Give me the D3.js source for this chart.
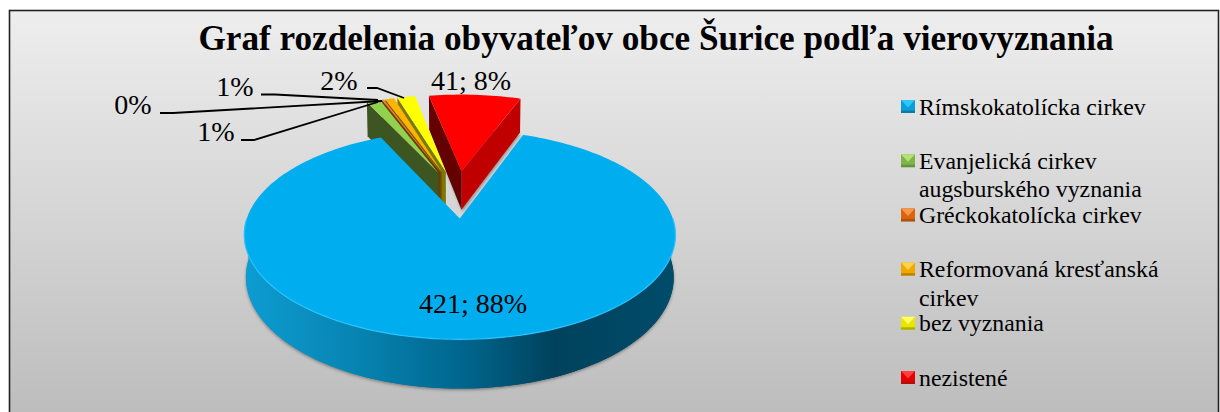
<!DOCTYPE html>
<html lang="sk">
<head>
<meta charset="UTF-8">
<title>Graf rozdelenia obyvateľov</title>
<script src="https://d3js.org/d3.v7.min.js"></script>
<style>
  html, body { margin: 0; padding: 0; background: #fff; }
  svg { display: block; }
  text { font-family: "Liberation Serif", serif; fill: #000; }
</style>
</head>
<body>
<svg width="1220" height="412"></svg>
<script>
// data
const title = "Graf rozdelenia obyvateľov obce Šurice podľa vierovyznania";
const categories = ["Rímskokatolícka cirkev", "Evanjelická cirkev augsburského vyznania", "Gréckokatolícka cirkev", "Reformovaná kresťanská cirkev", "bez vyznania", "nezistené"];
const values = [421, 6, 1, 4, 8, 41];
const dataLabels = ["421; 88%", "1%", "0%", "1%", "2%", "41; 8%"];
const legendLines = [["Rímskokatolícka cirkev"], ["Evanjelická cirkev", "augsburského vyznania"], ["Gréckokatolícka cirkev"], ["Reformovaná kresťanská", "cirkev"], ["bez vyznania"], ["nezistené"]];
const topColors = ["#00aeef", "#92d050", "#f07d1a", "#ffb400", "#ffff00", "#ff0000"];
const wallColors = ["#00628a", "#3c5521", "#6b3a08", "#7a5a00", "#7a7a00", "#640000"];
const wallColors2 = ["#00445f", "#3c5521", "#6b3a08", "#7a5a00", "#7a7a00", "#c00000"];
const legendTop = ["#2cc6f7", "#b5e07c", "#f79646", "#ffd24a", "#ffff66", "#ff4040"];
const legendBase = ["#0a9fd8", "#7fb548", "#d9650f", "#efa800", "#e6e600", "#e60000"];
const legendBottom = ["#0b7aa5", "#66923a", "#a9550f", "#b98300", "#b0b000", "#b80d0d"];

const svg = d3.select("svg");
const defs = svg.append("defs");

// panel
const bg = defs.append("linearGradient").attr("id", "bg").attr("x1", 0).attr("x2", 0).attr("y1", 0).attr("y2", 1);
bg.append("stop").attr("offset", 0).attr("stop-color", "#eeeeee");
bg.append("stop").attr("offset", 1).attr("stop-color", "#bcbcbc");
svg.append("rect").attr("x", 9.5).attr("y", 10.5).attr("width", 1209).attr("height", 410)
  .attr("fill", "url(#bg)").attr("stroke", "#222").attr("stroke-width", 1.6);

svg.append("text").attr("x", 656).attr("y", 50).attr("text-anchor", "middle")
  .attr("font-size", 35.2).attr("font-weight", "bold").text(title);

// ground plane -> screen, the pie lies on a unit disc seen in perspective
const cx = 457.5, cy = 194, rx = 205, ry = 94.5, persp = 0.15, depth = 40, explode = 0.25;
function project(u, v, z) {
  const w = 1 / (1 - persp * v);
  return [cx + rx * u * w * (1 - 0.008 * z), cy + ry * v * w + depth * z * w];
}

const pie = d3.pie().sort(null).startAngle(20 * Math.PI / 180).endAngle(380 * Math.PI / 180);
const arcs = pie(values);
const line = d3.line();

function apex(a) {
  const m = (a.startAngle + a.endAngle) / 2;
  return [explode * Math.sin(m), -explode * Math.cos(m)];
}
function rim(a, t) {
  const c = apex(a);
  return [c[0] + Math.sin(t), c[1] - Math.cos(t)];
}
function topPath(a, z) {
  const c = apex(a), n = Math.max(2, Math.ceil((a.endAngle - a.startAngle) * 40));
  const pts = [project(c[0], c[1], z)];
  d3.range(n + 1).forEach(i => {
    const p = rim(a, a.startAngle + (a.endAngle - a.startAngle) * i / n);
    pts.push(project(p[0], p[1], z));
  });
  return line(pts) + "Z";
}
function wall(a, t) {
  const c = apex(a), p = rim(a, t);
  return line([project(c[0], c[1], 0), project(p[0], p[1], 0), project(p[0], p[1], 1), project(c[0], c[1], 1)]) + "Z";
}

const shadow = defs.append("filter").attr("id", "soft").attr("x", "-5%").attr("y", "-5%").attr("width", "110%").attr("height", "110%");
shadow.append("feGaussianBlur").attr("stdDeviation", 1.4);

// far slices first, right to left, the big slice last
[5, 4, 3, 2, 1].forEach(i => {
  const a = arcs[i];
  const g = svg.append("g");
  if (i === 5) {
    g.append("path").attr("d", topPath(a, 1)).attr("fill", "#555").attr("opacity", 0.5).attr("filter", "url(#soft)").attr("transform", "translate(1,2)");
    g.append("path").attr("d", wall(a, a.endAngle)).attr("fill", wallColors2[i]);
  }
  g.append("path").attr("d", wall(a, a.startAngle)).attr("fill", wallColors[i]);
  g.append("path").attr("d", topPath(a, 0)).attr("fill", topColors[i]);
});

// big slice: side wall along the front, then the top
const big = arcs[0];
const sideGrad = defs.append("linearGradient").attr("id", "side").attr("gradientUnits", "userSpaceOnUse")
  .attr("x1", 243).attr("x2", 676).attr("y1", 0).attr("y2", 0);
[[0, "#0d9dd2"], [0.25, "#0785b3"], [0.5, "#00678f"], [0.72, "#00425c"], [1, "#004c6b"]]
  .forEach(s => sideGrad.append("stop").attr("offset", s[0]).attr("stop-color", s[1]));

const front = d3.range(90, 270.01, 2).map(d => rim(big, d * Math.PI / 180));
const wallPts = front.map(p => project(p[0], p[1], 0)).concat(front.slice().reverse().map(p => project(p[0], p[1], 1)));
svg.append("path").attr("d", topPath(big, 1)).attr("fill", "#444").attr("opacity", 0.55).attr("filter", "url(#soft)").attr("transform", "translate(0,1.5)");
svg.append("path").attr("d", line(wallPts) + "Z").attr("fill", "url(#side)");
svg.append("path").attr("d", topPath(big, 1)).attr("fill", "url(#side)");
svg.append("path").attr("d", topPath(big, 0)).attr("fill", topColors[0]);
svg.append("path").attr("d", line(front.map(p => project(p[0], p[1], 0)))).attr("fill", "none")
  .attr("stroke", "#2cc4ff").attr("stroke-width", 1.2);

// data labels, placed by hand as in the original
const labelPos = [[473, 313], [216, 141], [133, 114], [235, 96], [339, 90], [471, 90]];
const leaders = [null,
  [[241, 140], [254, 140], [378, 102]],
  [[160, 113], [173, 113], [382, 101]],
  [[261, 94.5], [275, 94.5], [378, 100]],
  [[367, 88], [377, 88], [404, 98]],
  null];
leaders.forEach(l => {
  if (l) svg.append("path").attr("d", line(l)).attr("fill", "none").attr("stroke", "#000").attr("stroke-width", 1.8);
});
dataLabels.forEach((t, i) => {
  svg.append("text").attr("x", labelPos[i][0]).attr("y", labelPos[i][1]).attr("text-anchor", "middle")
    .attr("font-size", 28).text(t);
});

// legend
const legendY = d3.scalePoint().domain(categories).range([106.5, 377.5]);
const legend = svg.append("g");
categories.forEach((c, i) => {
  const y = legendY(c), x0 = 901, x1 = 915, y0 = y - 6.5, y1 = y + 6.5, mx = 908, my = y + 1;
  legend.append("rect").attr("x", x0).attr("y", y0).attr("width", x1 - x0).attr("height", y1 - y0).attr("fill", legendBase[i]);
  legend.append("path").attr("d", line([[x0, y0], [x1, y0], [mx, my]]) + "Z").attr("fill", legendTop[i]);
  legend.append("path").attr("d", line([[x0, y1 - 2.5], [x1, y1 - 2.5], [x1, y1], [x0, y1]]) + "Z").attr("fill", legendBottom[i]);
  legendLines[i].forEach((t, k) => {
    legend.append("text").attr("x", 919).attr("y", y + 8 + k * 28.5).attr("font-size", 23.8).text(t);
  });
});
</script>
</body>
</html>
